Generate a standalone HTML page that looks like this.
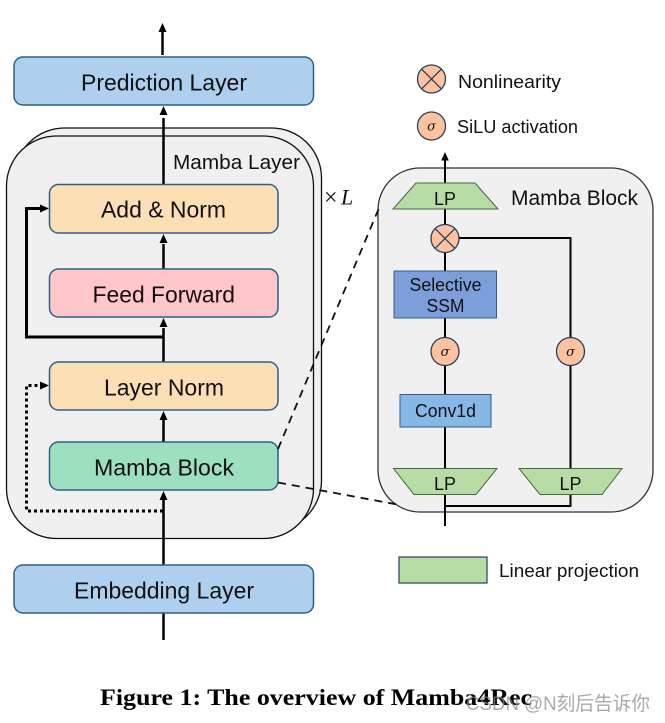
<!DOCTYPE html>
<html><head><meta charset="utf-8"><style>
html,body{margin:0;padding:0;background:#fff;width:665px;height:723px;overflow:hidden}
svg{display:block}
text{font-family:"Liberation Sans",sans-serif;fill:#111}
</style></head><body>
<svg width="665" height="723" viewBox="0 0 665 723" xmlns="http://www.w3.org/2000/svg">
<!-- left panels -->
<rect x="14.500" y="128" width="307" height="402.500" rx="50" fill="#f0f0f0" stroke="#111" stroke-width="1.300"/>
<rect x="6.500" y="136" width="307" height="402.500" rx="50" fill="#f0f0f0" stroke="#111" stroke-width="1.300"/>
<!-- right panel -->
<rect x="378" y="168" width="275" height="344" rx="42" fill="#f0f0f0" stroke="#333" stroke-width="1.300"/>
<!-- left connectors -->
<g stroke="#000" stroke-width="2.500" fill="none">
<path d="M162.500 55V30"/>
<path d="M163.500 184V118"/>
<path d="M163.500 269V244"/>
<path d="M163.500 362V328"/>
<path d="M163.500 442V420"/>
<path d="M163.500 640V500"/>
<path d="M163.500 337H26.500V208.500H42" stroke-width="3"/>
<path d="M163 511H26.500V385.500H42" stroke-width="3" stroke-dasharray="3 3"/>
</g>
<g fill="#000">
<path d="M162.500 23l-4 9h8z"/>
<path d="M163.500 106l-4 9h8z"/>
<path d="M163.500 234l-4 9h8z"/>
<path d="M163.500 318l-4 9h8z"/>
<path d="M163.500 411l-4 9h8z"/>
<path d="M163.500 491l-4 9h8z"/>
<path d="M49 208.500l-9-4v8z"/>
<path d="M49 385.500l-9-4v8z"/>
</g>
<!-- left boxes -->
<g stroke="#2f5f88" stroke-width="1.500">
<rect x="14" y="57" width="299.500" height="48" rx="9" fill="#aed0ee"/>
<rect x="14" y="565" width="299.500" height="48" rx="9" fill="#aed0ee"/>
<rect x="49.500" y="184.500" width="228.500" height="48.500" rx="9" fill="#fddfb6"/>
<rect x="49.500" y="269" width="228.500" height="48" rx="9" fill="#ffc6cb"/>
<rect x="49.500" y="362" width="228.500" height="48" rx="9" fill="#fddfb6"/>
<rect x="49.500" y="442" width="228.500" height="48" rx="9" fill="#9de0bf"/>
</g>
<g font-size="23.500" text-anchor="start">
<text x="81" y="90.500" textLength="166" lengthAdjust="spacingAndGlyphs">Prediction Layer</text>
<text x="101" y="217.500" textLength="125" lengthAdjust="spacingAndGlyphs">Add &amp; Norm</text>
<text x="92.500" y="302.500" textLength="142.500" lengthAdjust="spacingAndGlyphs">Feed Forward</text>
<text x="104" y="395.500" textLength="120" lengthAdjust="spacingAndGlyphs">Layer Norm</text>
<text x="94" y="475.500" textLength="140" lengthAdjust="spacingAndGlyphs">Mamba Block</text>
<text x="74" y="598.500" textLength="180" lengthAdjust="spacingAndGlyphs">Embedding Layer</text>
</g>
<text x="173" y="169" font-size="20.500" textLength="127" lengthAdjust="spacingAndGlyphs">Mamba Layer</text>
<text x="324" y="205" font-size="24" style="font-family:'Liberation Serif',serif">×</text>
<text x="341" y="204.500" font-size="22" font-style="italic" style="font-family:'Liberation Serif',serif">L</text>
<!-- dashed links -->
<g stroke="#111" stroke-width="1.800" fill="none" stroke-dasharray="8 6">
<path d="M278 449L379 208"/>
<path d="M278 482.500L400 505"/>
</g>
<!-- right connectors -->
<g stroke="#000" stroke-width="2" fill="none">
<path d="M445 526V158"/>
<path d="M445 506H570.500V238H445"/>
</g>
<path d="M445 152l-3.800 8.500h7.600z" fill="#000"/>
<!-- trapezoids -->
<g fill="#b8dca6" stroke="#3f6b3a" stroke-width="1">
<path d="M416 183H475L498 209H393z"/>
<path d="M393.500 468.500H497L476 494.500H414z"/>
<path d="M519 468.500H622L602 494.500H540z"/>
</g>
<rect x="394" y="271" width="102.500" height="47" fill="#7c9fdc" stroke="#2f5f88" stroke-width="1"/>
<rect x="400" y="394.500" width="91" height="32.500" fill="#85b8e6" stroke="#2f5f88" stroke-width="1"/>
<!-- circles -->
<g fill="#fdc3a0" stroke="#24405f" stroke-width="1.300">
<circle cx="431.500" cy="79" r="14"/>
<circle cx="431.500" cy="126" r="14"/>
<circle cx="445" cy="238.500" r="14"/>
<circle cx="445" cy="351.500" r="14"/>
<circle cx="570.500" cy="351.500" r="14"/>
</g>
<g stroke="#24405f" stroke-width="1.300">
<path d="M421.600 69.100L441.400 88.900M441.400 69.100L421.600 88.900"/>
<path d="M435.100 228.600L454.900 248.400M454.900 228.600L435.100 248.400"/>
</g>
<g font-size="15" font-style="italic" text-anchor="middle" style="font-family:'Liberation Serif',serif">
<text x="431.500" y="130.500" style="font-family:'DejaVu Serif',serif" font-size="13">σ</text>
<text x="445" y="356" style="font-family:'DejaVu Serif',serif" font-size="13">σ</text>
<text x="570.500" y="356" style="font-family:'DejaVu Serif',serif" font-size="13">σ</text>
</g>
<g font-size="18" text-anchor="middle">
<text x="445" y="205" textLength="22" lengthAdjust="spacingAndGlyphs">LP</text>
<text x="445" y="490" textLength="22" lengthAdjust="spacingAndGlyphs">LP</text>
<text x="570.500" y="490" textLength="22" lengthAdjust="spacingAndGlyphs">LP</text>
<text x="445.500" y="291" textLength="72" lengthAdjust="spacingAndGlyphs">Selective</text>
<text x="445.500" y="312" textLength="38" lengthAdjust="spacingAndGlyphs">SSM</text>
<text x="445.500" y="417" textLength="61" lengthAdjust="spacingAndGlyphs">Conv1d</text>
</g>
<text x="511" y="205" font-size="21" textLength="127" lengthAdjust="spacingAndGlyphs">Mamba Block</text>
<text x="458" y="88" font-size="18" textLength="103" lengthAdjust="spacingAndGlyphs">Nonlinearity</text>
<text x="457" y="133" font-size="18" textLength="121" lengthAdjust="spacingAndGlyphs">SiLU activation</text>
<rect x="399" y="557" width="88" height="26" fill="#b8dca6" stroke="#24405f" stroke-width="1.200"/>
<text x="499" y="577" font-size="18" textLength="140" lengthAdjust="spacingAndGlyphs">Linear projection</text>
<!-- caption -->
<text x="100" y="705" font-size="23" font-weight="bold" textLength="432" lengthAdjust="spacingAndGlyphs" style="font-family:'Liberation Serif',serif;fill:#000">Figure 1: The overview of Mamba4Rec</text>
<text x="466" y="710" font-size="19.500" textLength="184" lengthAdjust="spacingAndGlyphs" style="font-family:'Liberation Sans','Noto Sans CJK SC',sans-serif;fill:#888;fill-opacity:.72">CSDN @N刻后告诉你</text>
</svg>
</body></html>
